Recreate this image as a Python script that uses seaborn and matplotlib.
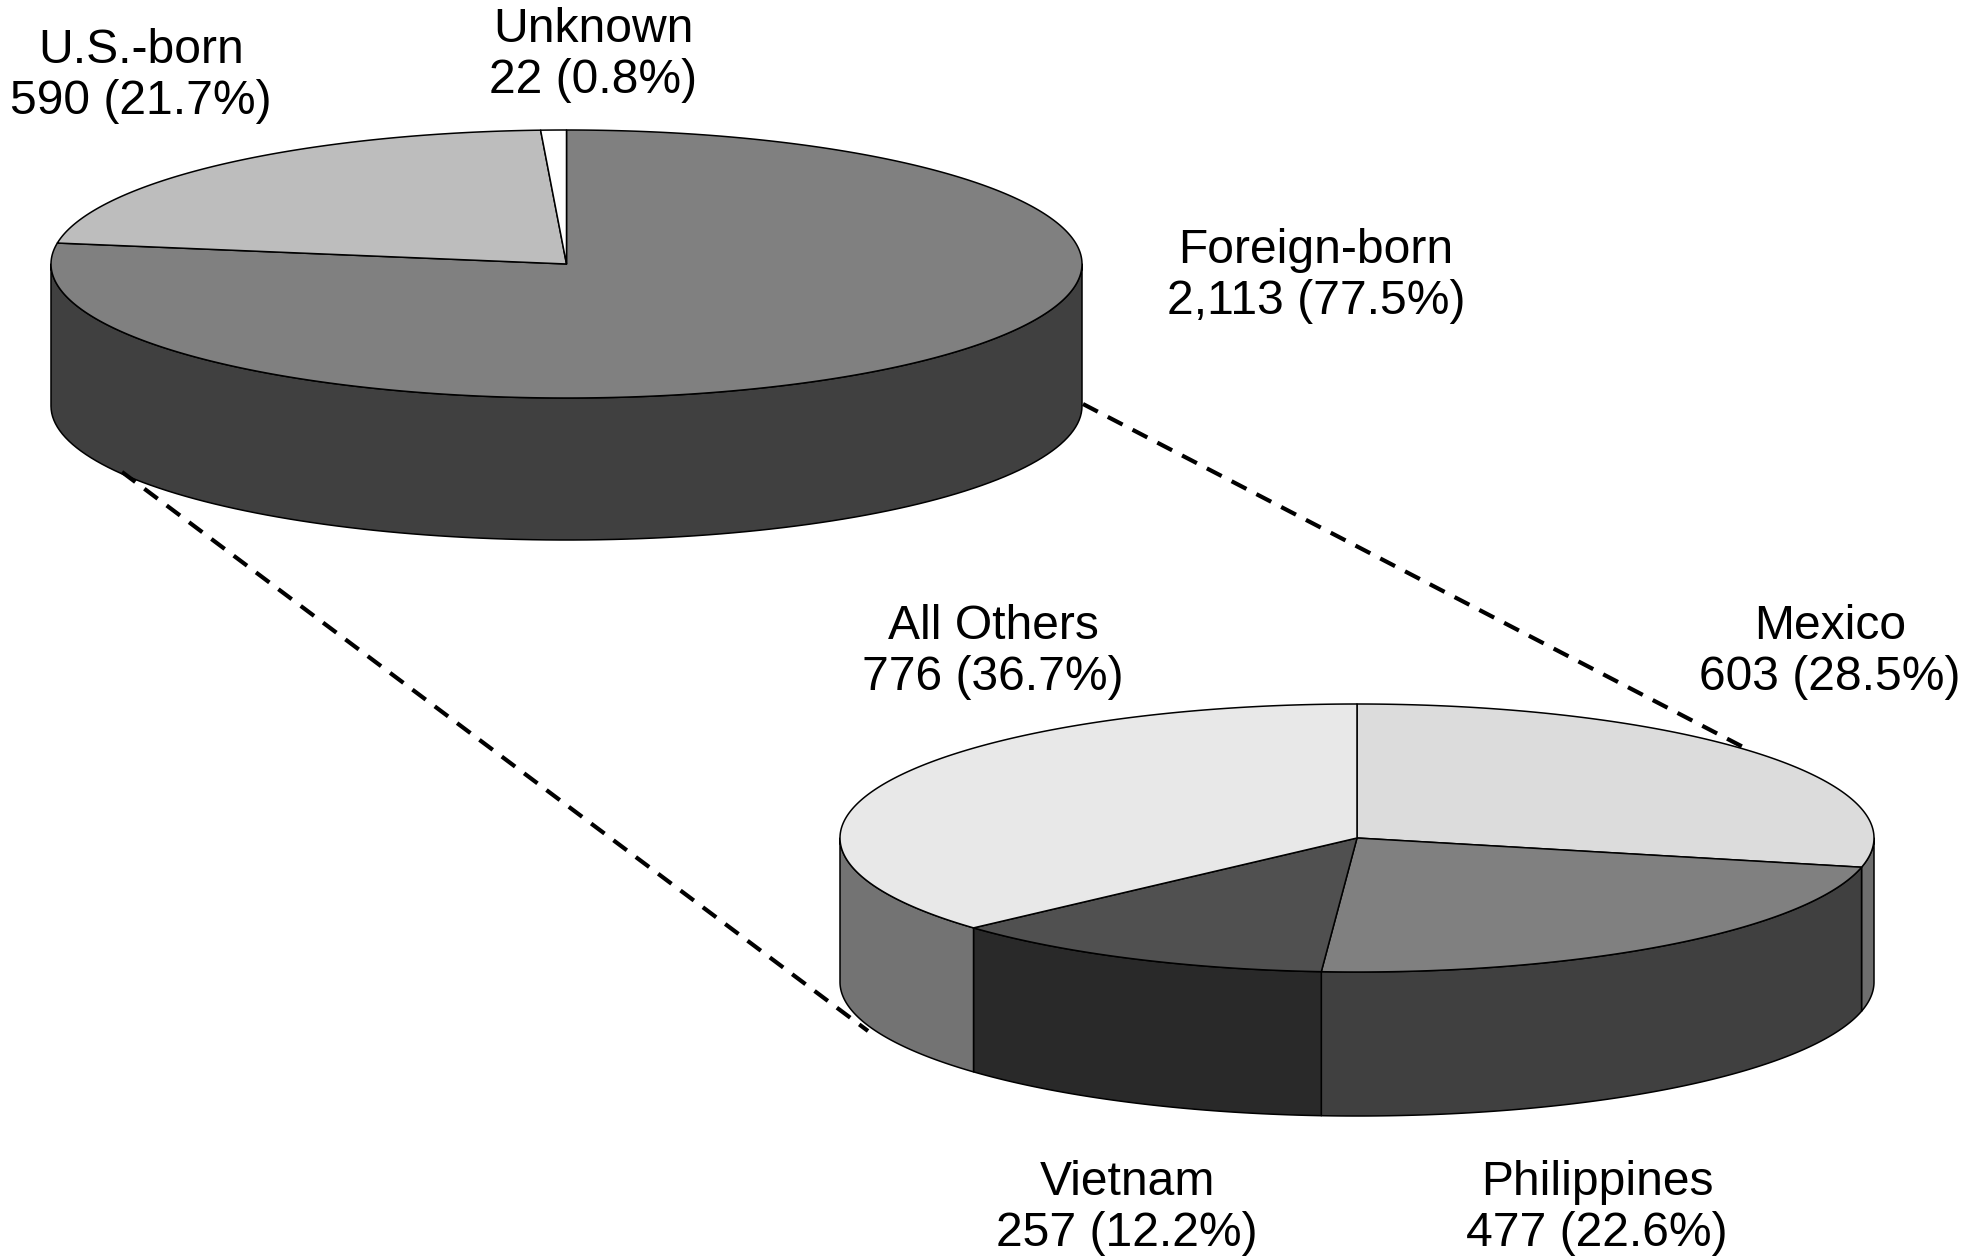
import numpy as np
import matplotlib
matplotlib.use("Agg")
import matplotlib.pyplot as plt
import seaborn as sns

# ---- data ----
top_names = ["Foreign-born", "U.S.-born", "Unknown"]
top_counts = [2113, 590, 22]
top_pcts = [77.5, 21.7, 0.8]
low_names = ["Mexico", "Philippines", "Vietnam", "All Others"]
low_counts = [603, 477, 257, 776]
low_pcts = [28.5, 22.6, 12.2, 36.7]

# ---- styles ----
top_face = ["#808080", "#bdbdbd", "#ffffff"]
top_side = ["#404040", "#5e5e5e", "#808080"]
low_face = ["#dcdcdc", "#808080", "#505050", "#e8e8e8"]
low_side = ["#6e6e6e", "#404040", "#292929", "#737373"]
top_geom = dict(cx=566.5, cy=264, rx=515.5, ry=134, depth=142)
low_geom = dict(cx=1357, cy=838, rx=517, ry=134, depth=144)
top_label_pos = [(1316, 276), (141, 76), (593, 55)]
low_label_pos = [(1830, 652), (1597, 1208), (1127, 1208), (993, 652)]

sns.set_theme(style="white")
plt.rcParams["font.family"] = ["Liberation Sans", "DejaVu Sans"]

fig, ax = plt.subplots(figsize=(19.78, 12.57), dpi=100)
ax.set_position([0, 0, 1, 1])
ax.set_xlim(0, 1978)
ax.set_ylim(1257, 0)
ax.axis("off")

EDGE = dict(edgecolor="black", linewidth=1.1, joinstyle="round")


def rim(g, t, dy=0):
    """Point(s) on the ellipse; t is degrees clockwise from 12 o'clock."""
    r = np.radians(t)
    return g["cx"] + g["rx"] * np.sin(r), g["cy"] - g["ry"] * np.cos(r) + dy


def pie3d(g, pcts, faces, sides):
    edges = np.concatenate([[0], np.cumsum(pcts)]) * 3.6
    # walls: only the front half of the disc shows
    for a, b, col in zip(edges[:-1], edges[1:], sides):
        lo, hi = max(a, 90), min(b, 270)
        if lo >= hi:
            continue
        t = np.linspace(lo, hi, 120)
        xt, yt = rim(g, t)
        xb, yb = rim(g, t[::-1], g["depth"])
        ax.fill(np.r_[xt, xb], np.r_[yt, yb], facecolor=col, zorder=2, **EDGE)
    # top faces
    for a, b, col in zip(edges[:-1], edges[1:], faces):
        t = np.linspace(a, b, max(int(b - a) * 2, 8))
        x, y = rim(g, t)
        ax.fill(np.r_[g["cx"], x], np.r_[g["cy"], y], facecolor=col, zorder=3, **EDGE)


pie3d(top_geom, top_pcts, top_face, top_side)
pie3d(low_geom, low_pcts, low_face, low_side)

# connector lines from the foreign-born slice to the breakdown pie
dash = dict(color="black", lw=3.0, dashes=(4.0, 2.7), zorder=4, dash_capstyle="butt")
ax.plot([1083, 1745], [404, 748], **dash)
ax.plot([122, 868], [472, 1031], **dash)


def labels(names, counts, pcts, pos):
    for n, c, p, (x, y) in zip(names, counts, pcts, pos):
        ax.text(x, y, f"{n}\n{c:,} ({p}%)", ha="center", va="center",
                fontsize=34.6, color="black", linespacing=1.19, zorder=5)


labels(top_names, top_counts, top_pcts, top_label_pos)
labels(low_names, low_counts, low_pcts, low_label_pos)

fig.savefig("out.png", dpi=100, facecolor="white")
